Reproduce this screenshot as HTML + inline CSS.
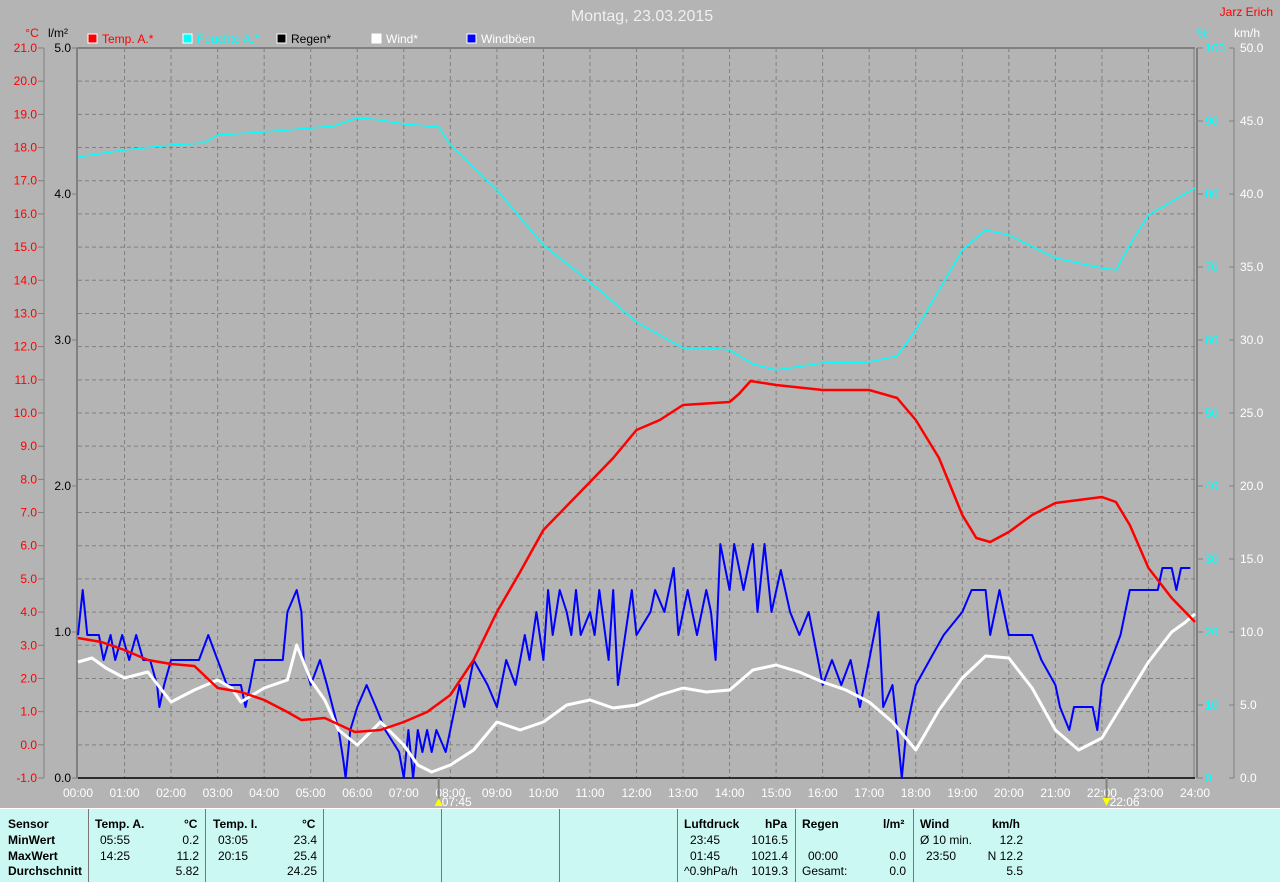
<!DOCTYPE html>
<html><head><meta charset="utf-8"><style>
body{margin:0;width:1280px;height:881px;background:#b4b4b4;overflow:hidden;font-family:"Liberation Sans",sans-serif}
svg{position:absolute;left:0;top:0}
#tbl{position:absolute;left:0;top:808px;width:1280px;height:73px;background:#ccf8f4;border-top:1px solid #fff;overflow:hidden}
.c{position:absolute;top:0;height:73px;border-left:1px solid #777}
.t{position:absolute;font-size:12px;line-height:14px;color:#000;white-space:nowrap}
.b{font-weight:bold}
</style></head><body>
<svg width="1280" height="881" id="s" font-family="Liberation Sans, sans-serif"></svg>
<div id="tbl">
<div class="c" style="left:88px"></div><div class="c" style="left:205px"></div><div class="c" style="left:323px"></div><div class="c" style="left:441px"></div><div class="c" style="left:559px"></div><div class="c" style="left:677px"></div><div class="c" style="left:795px"></div><div class="c" style="left:913px"></div>
<div class="t b" style="left:8px;top:8px">Sensor</div><div class="t b" style="left:8px;top:24px">MinWert</div><div class="t b" style="left:8px;top:40px">MaxWert</div><div class="t b" style="left:8px;top:55px">Durchschnitt</div>
<div class="t b" style="left:95px;top:8px">Temp. A.</div><div class="t b" style="left:184px;top:8px">°C</div>
<div class="t" style="left:100px;top:24px">05:55</div><div class="t" style="left:100px;top:40px">14:25</div>
<div class="t" style="right:1081px;top:24px">0.2</div><div class="t" style="right:1081px;top:40px">11.2</div><div class="t" style="right:1081px;top:55px">5.82</div>
<div class="t b" style="left:213px;top:8px">Temp. I.</div><div class="t b" style="left:302px;top:8px">°C</div>
<div class="t" style="left:218px;top:24px">03:05</div><div class="t" style="left:218px;top:40px">20:15</div>
<div class="t" style="right:963px;top:24px">23.4</div><div class="t" style="right:963px;top:40px">25.4</div><div class="t" style="right:963px;top:55px">24.25</div>
<div class="t b" style="left:684px;top:8px">Luftdruck</div><div class="t b" style="left:765px;top:8px">hPa</div>
<div class="t" style="left:690px;top:24px">23:45</div><div class="t" style="left:690px;top:40px">01:45</div><div class="t" style="left:684px;top:55px">^0.9hPa/h</div>
<div class="t" style="right:492px;top:24px">1016.5</div><div class="t" style="right:492px;top:40px">1021.4</div><div class="t" style="right:492px;top:55px">1019.3</div>
<div class="t b" style="left:802px;top:8px">Regen</div><div class="t b" style="left:883px;top:8px">l/m²</div>
<div class="t" style="left:808px;top:40px">00:00</div><div class="t" style="left:802px;top:55px">Gesamt:</div>
<div class="t" style="right:374px;top:40px">0.0</div><div class="t" style="right:374px;top:55px">0.0</div>
<div class="t b" style="left:920px;top:8px">Wind</div><div class="t b" style="left:992px;top:8px">km/h</div>
<div class="t" style="left:920px;top:24px">Ø 10 min.</div><div class="t" style="left:926px;top:40px">23:50</div>
<div class="t" style="right:257px;top:24px">12.2</div><div class="t" style="right:257px;top:40px">N 12.2</div><div class="t" style="right:257px;top:55px">5.5</div>
</div>
<script>
var s=document.getElementById('s'),h='';
var L=78,R=1195,T=48,B=778,W=(R-L)/24;
function X(t){return L+t*W}
h+='<text x="642" y="21" text-anchor="middle" font-size="16" fill="#f0f0f0">Montag, 23.03.2015</text>';
h+='<text x="1273" y="16" text-anchor="end" font-size="12" fill="#f00">Jarz Erich</text>';
for(var i=1;i<22;i++){var y=T+i*(B-T)/22;h+='<line x1="'+L+'" x2="'+R+'" y1="'+y+'" y2="'+y+'" stroke="#808080" stroke-dasharray="4,3"/>';}
for(var i=1;i<24;i++){var x=X(i);h+='<line x1="'+x+'" x2="'+x+'" y1="'+T+'" y2="'+B+'" stroke="#808080" stroke-dasharray="4,3"/>';}
h+='<line x1="'+(L-1)+'" x2="'+R+'" y1="'+T+'" y2="'+T+'" stroke="#808080" stroke-width="2"/>';
h+='<line x1="'+(L-1)+'" x2="'+(L-1)+'" y1="'+T+'" y2="'+B+'" stroke="#808080" stroke-width="2"/>';
h+='<line x1="'+(R-1)+'" x2="'+(R-1)+'" y1="'+T+'" y2="'+B+'" stroke="#808080" stroke-width="1"/>';
h+='<line x1="'+(R+2)+'" x2="'+(R+2)+'" y1="'+T+'" y2="'+B+'" stroke="#808080" stroke-width="2"/>';
h+='<line x1="'+L+'" x2="'+R+'" y1="'+B+'" y2="'+B+'" stroke="#000" stroke-width="1.5"/>';
h+='<line x1="44" x2="44" y1="'+T+'" y2="'+B+'" stroke="#808080"/>';
h+='<text x="32" y="37" text-anchor="middle" font-size="12" fill="#f00">°C</text><text x="58" y="37" text-anchor="middle" font-size="12" fill="#000">l/m²</text>';
for(var i=0;i<=22;i++){var y=T+i*(B-T)/22;h+='<line x1="38" x2="44" y1="'+y+'" y2="'+y+'" stroke="#808080"/><text x="37" y="'+(y+4)+'" text-anchor="end" font-size="12" fill="#f00">'+(21-i).toFixed(1)+'</text>';}
for(var i=0;i<=5;i++){var y=T+i*(B-T)/5;h+='<line x1="'+(L-6)+'" x2="'+L+'" y1="'+y+'" y2="'+y+'" stroke="#808080"/><text x="'+(L-7)+'" y="'+(y+4)+'" text-anchor="end" font-size="12" fill="#000">'+(5-i).toFixed(1)+'</text>';}
h+='<text x="1203" y="37" text-anchor="middle" font-size="12" fill="#0ff">%</text><text x="1247" y="37" text-anchor="middle" font-size="12" fill="#fff">km/h</text>';
h+='<line x1="1234" x2="1234" y1="'+T+'" y2="'+B+'" stroke="#808080"/>';
for(var i=0;i<=10;i++){var y=T+i*(B-T)/10;h+='<line x1="1197" x2="1203" y1="'+y+'" y2="'+y+'" stroke="#808080"/><text x="1205" y="'+(y+4)+'" font-size="12" fill="#0ff">'+(100-i*10)+'</text>';
h+='<line x1="1229" x2="1234" y1="'+y+'" y2="'+y+'" stroke="#808080"/><text x="1240" y="'+(y+4)+'" font-size="12" fill="#fff">'+(50-i*5).toFixed(1)+'</text>';}
for(var i=0;i<=24;i++){h+='<text x="'+X(i)+'" y="797" text-anchor="middle" font-size="12" fill="#fff">'+(i<10?'0':'')+i+':00</text>';}
h+='<line x1="'+X(7.75)+'" x2="'+X(7.75)+'" y1="778" y2="800" stroke="#808080" stroke-width="2"/><text x="'+(X(7.75)+3)+'" y="806" font-size="12" fill="#fff">07:45</text><path d="M'+(X(7.75)-4)+' 806 l4 -8 l4 8z" fill="#ff0"/>';
h+='<line x1="'+X(22.1)+'" x2="'+X(22.1)+'" y1="778" y2="800" stroke="#808080" stroke-width="2"/><text x="'+(X(22.1)+3)+'" y="806" font-size="12" fill="#fff">22:06</text><path d="M'+(X(22.1)-4)+' 798 l4 8 l4 -8z" fill="#ff0"/>';
var lg=[[88,'#f00','Temp. A.*','#f00'],[183,'#0ff','Feuchte A.*','#0ff'],[277,'#000','Regen*','#000'],[372,'#fff','Wind*','#fff'],[467,'#00f','Windböen','#fff']];
lg.forEach(function(a){h+='<rect x="'+a[0]+'" y="34" width="9" height="9" fill="'+a[1]+'" stroke="#fff"/><text x="'+(a[0]+14)+'" y="43" font-size="12" fill="'+a[3]+'">'+a[2]+'</text>';});
function P(d,c,w){var p='';for(var i=0;i<d.length;i+=2){p+=' '+X(d[i]).toFixed(1)+','+d[i+1];}return '<polyline points="'+p+'" fill="none" stroke="'+c+'" stroke-width="'+w+'" stroke-linejoin="round"/>';}
var hum=[0,157,1,150,2,145,2.7,143,3,135,4,132,5,128,5.5,126,6,118,6.5,120,7,124,7.75,127,8,145,9,190,10,245,11,282,12,322,13,348,13.5,348,14,350,14.5,364,15,370,16,363,17,362,17.6,356,18,330,19,250,19.5,230,20,235,21,258,22,268,22.3,270,22.6,245,23,215,24,188];
var tmp=[0,638,0.5,642,1,650,1.5,660,2,664,2.5,666,3,688,3.5,692,4,700,4.5,712,4.8,720,5.3,718,5.95,732,6.5,730,7,722,7.5,712,8,695,8.5,660,9,612,9.5,572,10,530,11,482,11.5,458,12,430,12.5,420,13,405,14,402,14.2,394,14.45,381,15,385,16,390,17,390,17.6,398,18,420,18.5,458,19,515,19.3,538,19.6,542,20,532,20.5,515,21,503,22,497,22.3,502,22.6,525,23,568,23.5,598,24,622];
var wnd=[0,662,0.3,658,0.6,668,1,678,1.5,672,2,702,2.5,690,3,680,3.3,688,3.5,702,4,688,4.5,680,4.7,645,5,680,5.3,700,5.6,730,6,745,6.5,722,7,745,7.3,765,7.6,772,8,765,8.5,750,9,722,9.5,730,10,722,10.5,705,11,700,11.5,708,12,705,12.5,695,13,688,13.5,692,14,690,14.5,670,15,665,15.5,672,16,682,16.5,690,17,702,17.5,722,18,750,18.5,710,19,678,19.5,656,20,658,20.5,688,21,730,21.5,750,22,738,22.5,700,23,662,23.5,632,23.8,622,24,614];
var gst=[0,635,0.1,590,0.2,635,0.45,635,0.55,660,0.7,635,0.8,660,0.95,635,1.1,660,1.25,635,1.4,660,1.55,660,1.7,685,1.75,707,1.85,685,2,660,2.6,660,2.8,635,3.0,660,3.2,685,3.5,685,3.6,707,3.7,685,3.8,660,4.4,660,4.5,612,4.7,590,4.8,612,4.85,660,5,685,5.2,660,5.35,685,5.6,730,5.7,760,5.75,778,5.85,730,6,707,6.2,685,6.4,707,6.6,730,6.9,752,7,778,7.1,730,7.2,778,7.3,730,7.4,752,7.5,730,7.6,752,7.7,730,7.9,752,8,730,8.2,685,8.3,707,8.5,660,8.8,685,9,707,9.2,660,9.4,685,9.6,635,9.7,660,9.85,612,10,660,10.1,590,10.2,635,10.35,590,10.5,612,10.6,635,10.7,590,10.8,635,11,612,11.1,635,11.2,590,11.4,660,11.5,590,11.6,685,11.9,590,12,635,12.3,612,12.4,590,12.6,612,12.8,568,12.9,635,13.1,590,13.3,635,13.5,590,13.6,612,13.7,660,13.8,544,14,590,14.1,544,14.3,590,14.5,544,14.6,612,14.75,544,14.9,612,15.1,570,15.3,612,15.5,635,15.7,612,15.9,660,16,685,16.2,660,16.4,685,16.6,660,16.8,707,17,660,17.2,612,17.3,707,17.5,685,17.6,730,17.7,778,17.8,730,18,685,18.3,660,18.6,635,19,612,19.2,590,19.5,590,19.6,635,19.8,590,20,635,20.5,635,20.7,660,21,685,21.1,707,21.3,730,21.4,707,21.8,707,21.9,730,22,685,22.2,660,22.4,635,22.6,590,23.2,590,23.3,568,23.5,568,23.6,590,23.7,568,23.9,568];
h+=P(hum,'#0ff',1.5)+P(gst,'#00f',2)+P(wnd,'#fff',3)+P(tmp,'#f00',2.5);
s.innerHTML=h;
</script>
</body></html>
